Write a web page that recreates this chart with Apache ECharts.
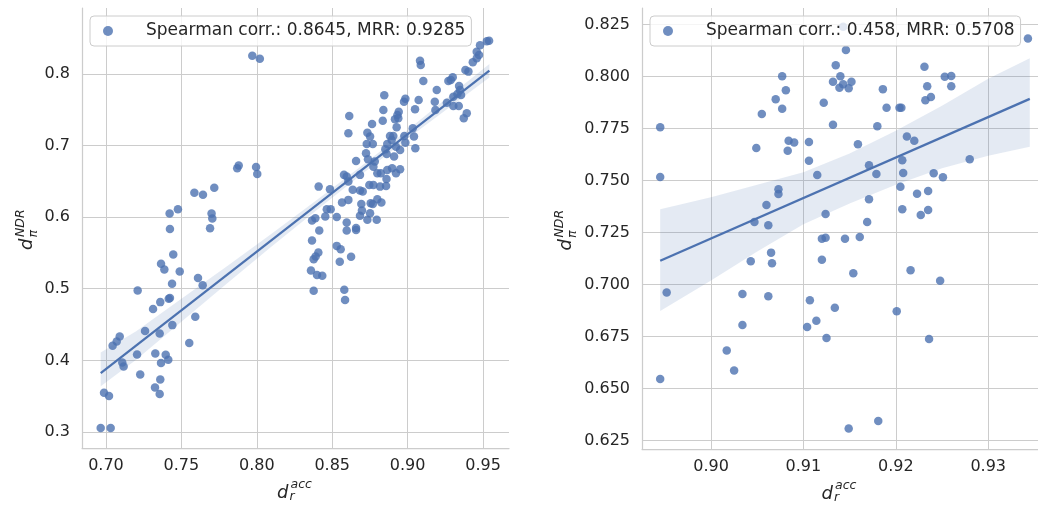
<!DOCTYPE html>
<html>
<head>
<meta charset="utf-8">
<script src="https://cdn.jsdelivr.net/npm/echarts@6/dist/echarts.min.js"></script>
<style>
  html, body { margin: 0; padding: 0; background: #ffffff; }
  #chart { width: 1038px; height: 506px; }
</style>
</head>
<body>
<div id="chart"></div>
<script>
// ---- Left panel: ranking accuracy vs. NDR distance (one point per run) ----
const leftPoints = [
  [0.797,0.825],[0.802,0.821],[0.787,0.668],[0.788,0.672],[0.7995,0.670],[0.8003,0.660],
  [0.7718,0.641],[0.7586,0.634],[0.7643,0.631],[0.7422,0.605],[0.7477,0.611],[0.770,0.605],
  [0.7705,0.598],[0.7424,0.5835],[0.769,0.5844],[0.7446,0.5477],[0.7365,0.5347],[0.7387,0.5268],
  [0.7489,0.524],[0.7438,0.5068],[0.761,0.5148],[0.7641,0.505],[0.721,0.4975],[0.736,0.4813],
  [0.7416,0.486],[0.7424,0.4869],[0.7312,0.4716],[0.7592,0.4608],[0.7259,0.4409],[0.7356,0.4375],
  [0.744,0.4492],[0.7091,0.4333],[0.7071,0.4264],[0.7044,0.4204],[0.7552,0.4241],[0.7206,0.4082],
  [0.7327,0.4096],[0.7396,0.4078],[0.7413,0.4008],[0.7365,0.3962],[0.7108,0.3971],[0.7117,0.3915],
  [0.7227,0.3803],[0.736,0.3734],[0.7325,0.3622],[0.7356,0.353],[0.6987,0.3548],[0.702,0.3502],
  [0.6965,0.3056],[0.7031,0.3056],
  [0.9525,0.8455],[0.954,0.8462],[0.948,0.8397],[0.9458,0.8308],[0.9473,0.8262],[0.9458,0.8216],
  [0.9432,0.816],[0.9383,0.8053],[0.9403,0.803],[0.927,0.79],[0.9299,0.795],[0.9286,0.7914],
  [0.9341,0.783],[0.9347,0.7774],[0.933,0.7718],[0.9354,0.7704],[0.9303,0.768],[0.9372,0.738],
  [0.9392,0.745],[0.9339,0.755],[0.9303,0.755],[0.926,0.7597],[0.918,0.761],[0.9184,0.7495],
  [0.9193,0.7774],[0.9104,0.79],[0.9082,0.8183],[0.9087,0.8123],[0.9073,0.7635],[0.9049,0.7505],
  [0.8985,0.7653],[0.8976,0.7611],[0.8941,0.7471],[0.8932,0.7425],[0.8938,0.738],[0.8916,0.7365],
  [0.8927,0.7254],[0.8905,0.7132],[0.8845,0.77],[0.8839,0.7495],[0.8835,0.7346],[0.8764,0.73],
  [0.8613,0.7411],[0.8607,0.717],[0.8733,0.7178],[0.8751,0.7123],[0.8769,0.702],[0.8729,0.702],
  [0.8883,0.7132],[0.8894,0.7077],[0.8865,0.702],[0.8923,0.6983],[0.891,0.6844],[0.895,0.6937],
  [0.8978,0.7132],[0.8985,0.7039],[0.9042,0.7123],[0.9051,0.6961],[0.9034,0.724],[0.8852,0.6947],
  [0.8861,0.6881],[0.8724,0.6891],[0.8737,0.6808],[0.8658,0.6784],[0.8782,0.6774],[0.8773,0.6704],
  [0.8799,0.6612],[0.8822,0.6612],[0.8578,0.6589],[0.8596,0.6565],[0.8607,0.6495],[0.8684,0.6589],
  [0.8865,0.6658],[0.8897,0.6682],[0.895,0.6668],[0.8923,0.6612],[0.841,0.6425],[0.8485,0.6389],
  [0.8636,0.638],[0.8684,0.637],[0.8702,0.6356],[0.8746,0.6449],[0.8773,0.6449],[0.8817,0.6425],
  [0.8857,0.6435],[0.8565,0.6202],[0.8607,0.624],[0.8693,0.6184],[0.8755,0.6194],[0.8769,0.6184],
  [0.8799,0.625],[0.8826,0.6202],[0.8464,0.611],[0.849,0.611],[0.8454,0.6007],[0.8388,0.5985],
  [0.8366,0.5951],[0.853,0.6],[0.8684,0.6017],[0.8733,0.5961],[0.8751,0.6054],[0.8795,0.5961],
  [0.8596,0.5923],[0.8658,0.5849],[0.8658,0.5821],[0.8414,0.5812],[0.8366,0.5672],[0.853,0.5598],
  [0.8556,0.5552],[0.8408,0.5505],[0.839,0.5449],[0.8377,0.5413],[0.8625,0.5445],[0.855,0.5375],
  [0.8359,0.5254],[0.8399,0.519],[0.8434,0.518],[0.8377,0.4971],[0.858,0.4985],[0.8585,0.4841],
  [0.8596,0.5812],[0.8697,0.609],[0.886,0.653]
];
// fitted regression line and its confidence band
const leftFitX = [0.6965, 0.9542];
const leftFitY = [0.3823, 0.8043];
const leftBandX = [0.6965, 0.72, 0.75, 0.78, 0.81, 0.84, 0.87, 0.90, 0.93, 0.9542];
const leftBandHigh = [0.4110, 0.4408, 0.4859, 0.5310, 0.5772, 0.6243, 0.6724, 0.7215, 0.7727, 0.8138];
const leftBandLow  = [0.3640, 0.4008, 0.4539, 0.5070, 0.5592, 0.6103, 0.6604, 0.7095, 0.7567, 0.7948];
const leftLegend = 'Spearman corr.: 0.8645, MRR: 0.9285';
const leftXTicks = [0.70, 0.75, 0.80, 0.85, 0.90, 0.95];
const leftYTicks = [0.3, 0.4, 0.5, 0.6, 0.7, 0.8];

// ---- Right panel ----
const rightPoints = [
  [0.8945,0.7757],[0.8945,0.7518],[0.8952,0.6962],[0.9049,0.7657],[0.9055,0.782],[0.907,0.7891],
  [0.9077,0.8002],[0.9081,0.7935],[0.9077,0.7846],[0.9084,0.7692],[0.909,0.7683],[0.9083,0.7644],
  [0.9106,0.7686],[0.9106,0.7596],[0.9115,0.7527],[0.9122,0.7874],[0.9132,0.7769],[0.9135,0.8055],
  [0.9132,0.7975],[0.914,0.8002],[0.9143,0.7963],[0.9139,0.7947],[0.9149,0.7944],[0.9152,0.7976],
  [0.9146,0.8128],[0.9159,0.7675],[0.918,0.7762],[0.9186,0.794],[0.919,0.7851],[0.9204,0.785],
  [0.9206,0.785],[0.9231,0.8047],[0.9234,0.7954],[0.9238,0.7902],[0.9232,0.7887],[0.9253,0.7999],
  [0.926,0.8003],[0.926,0.7954],[0.9343,0.8183],[0.9212,0.7712],[0.922,0.7692],[0.9207,0.7598],
  [0.928,0.7603],[0.9171,0.7574],[0.9179,0.7532],[0.9208,0.7537],[0.9241,0.7536],[0.9251,0.7516],
  [0.9205,0.7471],[0.9235,0.745],[0.9223,0.7437],[0.9171,0.7411],[0.9207,0.7363],[0.9235,0.7359],
  [0.9227,0.7335],[0.9124,0.734],[0.9169,0.7301],[0.9073,0.7459],[0.9073,0.7436],[0.906,0.7383],
  [0.9047,0.7301],[0.9062,0.7286],[0.912,0.7221],[0.9124,0.7225],[0.9145,0.7221],[0.9161,0.7229],
  [0.9065,0.7154],[0.9066,0.7103],[0.9043,0.7112],[0.912,0.712],[0.9154,0.7055],[0.9216,0.7069],
  [0.9248,0.7019],[0.9034,0.6955],[0.9062,0.6944],[0.9107,0.6925],[0.9034,0.6806],[0.9104,0.6797],
  [0.9114,0.6827],[0.9125,0.6744],[0.9017,0.6683],[0.9025,0.6587],[0.8945,0.6547],[0.9134,0.6889],
  [0.9201,0.6872],[0.9236,0.6739],[0.9181,0.6345],[0.9149,0.6308],[0.9143,0.824]
];
const rightFitX = [0.8945, 0.9345];
const rightFitY = [0.7115, 0.7893];
const rightBandX = [0.8945, 0.90, 0.905, 0.91, 0.915, 0.92, 0.925, 0.93, 0.9345];
const rightBandHigh = [0.7363, 0.742, 0.748, 0.754, 0.763, 0.774, 0.786, 0.799, 0.8088];
const rightBandLow  = [0.6874, 0.702, 0.716, 0.729, 0.739, 0.748, 0.756, 0.762, 0.7663];
const rightLegend = 'Spearman corr.: 0.458, MRR: 0.5708';
const rightXTicks = [0.90, 0.91, 0.92, 0.93];
const rightYTicks = [0.625, 0.650, 0.675, 0.700, 0.725, 0.750, 0.775, 0.800, 0.825];

// ---- styling ----
const FONT = 'DejaVu Sans';
const INK = '#262626';
const BLUE = '#4c72b0';
const EDGE = '#cccccc';

const panels = [
  { grid: { left: 82, top: 8, width: 427, height: 440 }, xRange: [0.6841, 0.9672], yRange: [0.2777, 0.8918],
    xTicks: leftXTicks, yTicks: leftYTicks, xDec: 2, yDec: 1,
    points: leftPoints, fitX: leftFitX, fitY: leftFitY,
    bandX: leftBandX, bandHigh: leftBandHigh, bandLow: leftBandLow, legend: leftLegend, yTitleGap: 45 },
  { grid: { left: 642, top: 8, width: 396, height: 441 }, xRange: [0.89253, 0.93539], yRange: [0.621, 0.833],
    xTicks: rightXTicks, yTicks: rightYTicks, xDec: 2, yDec: 3,
    points: rightPoints, fitX: rightFitX, fitY: rightFitY,
    bandX: rightBandX, bandHigh: rightBandHigh, bandLow: rightBandLow, legend: rightLegend, yTitleGap: 66 }
];

const grids = [], xAxes = [], yAxes = [], series = [], legends = [], graphics = [];

panels.forEach((p, i) => {
  grids.push(Object.assign({ containLabel: false }, p.grid));

  const axisCommon = {
    gridIndex: i,
    type: 'value',
    axisLine: { show: true, lineStyle: { color: EDGE, width: 1.25 } },
    axisTick: { show: false },
    splitLine: { show: true, lineStyle: { color: EDGE, width: 1 } }
  };
  xAxes.push(Object.assign({}, axisCommon, {
    min: p.xRange[0], max: p.xRange[1],
    axisTick: { show: false, customValues: p.xTicks },
    axisLabel: { customValues: p.xTicks, formatter: v => v.toFixed(p.xDec), color: INK,
                 fontFamily: FONT, fontSize: 16, margin: 10 }
  }));
  yAxes.push(Object.assign({}, axisCommon, {
    min: p.yRange[0], max: p.yRange[1],
    axisTick: { show: false, customValues: p.yTicks },
    axisLabel: { customValues: p.yTicks, formatter: v => v.toFixed(p.yDec), color: INK,
                 fontFamily: FONT, fontSize: 16, margin: 12 }
  }));

  series.push({
    name: p.legend, type: 'scatter', xAxisIndex: i, yAxisIndex: i, z: 2,
    symbol: 'circle', symbolSize: 8.5,
    itemStyle: { color: BLUE, opacity: 0.8 },
    data: p.points
  });
  series.push({
    type: 'custom', xAxisIndex: i, yAxisIndex: i, z: 3, silent: true,
    data: p.bandX.map((x, k) => [x, p.bandHigh[k], p.bandLow[k]]),
    encode: { x: 0, y: [1, 2] },
    renderItem: (params, api) => {
      if (params.dataIndex !== 0) return;
      const pts = [];
      p.bandX.forEach((x, k) => pts.push(api.coord([x, p.bandHigh[k]])));
      for (let k = p.bandX.length - 1; k >= 0; k--) pts.push(api.coord([p.bandX[k], p.bandLow[k]]));
      return { type: 'polygon', shape: { points: pts }, style: { fill: 'rgba(76,114,176,0.15)' } };
    }
  });
  series.push({
    type: 'line', xAxisIndex: i, yAxisIndex: i, z: 4, silent: true,
    symbol: 'none', lineStyle: { color: BLUE, width: 2.3 },
    data: p.fitX.map((x, k) => [x, p.fitY[k]])
  });

  legends.push({
    data: [p.legend],
    left: p.grid.left + 8, top: 16,
    orient: 'vertical',
    icon: 'circle', itemWidth: 20, itemHeight: 10,
    padding: [5, 6, 5, 13],
    backgroundColor: 'rgba(255,255,255,0.8)',
    borderColor: EDGE, borderWidth: 1, borderRadius: 4,
    textStyle: { color: INK, fontFamily: FONT, fontSize: 17, padding: [0, 0, 0, 23], lineHeight: 20 }
  });

  // x-axis title: d_r^{acc}
  const cx = p.grid.left + p.grid.width / 2;
  const bottom = p.grid.top + p.grid.height;
  graphics.push({
    type: 'group', left: cx - 18.5, top: bottom + 30,
    children: [
      { type: 'text', x: 0, y: 6, style: { text: 'd', font: 'italic 18px "DejaVu Sans"', fill: INK } },
      { type: 'text', x: 13.5, y: 0, style: { text: 'acc', font: 'italic 12.5px "DejaVu Sans"', fill: INK } },
      { type: 'text', x: 12.5, y: 12.5, style: { text: 'r', font: 'italic 12.5px "DejaVu Sans"', fill: INK } }
    ]
  });
  // y-axis title: d_π^{NDR}, rotated
  const cy = p.grid.top + p.grid.height / 2;
  graphics.push({
    type: 'group', x: p.grid.left - p.yTitleGap - 10, y: cy + 22, rotation: Math.PI / 2,
    children: [
      { type: 'text', x: 0, y: 0, style: { text: 'd', font: 'italic 18px "DejaVu Sans"', fill: INK, verticalAlign: 'middle' } },
      { type: 'text', x: 13, y: -6, style: { text: 'NDR', font: 'italic 12.5px "DejaVu Sans"', fill: INK, verticalAlign: 'middle' } },
      { type: 'text', x: 12.5, y: 6.5, style: { text: 'π', font: 'italic 12.5px "DejaVu Sans"', fill: INK, verticalAlign: 'middle' } }
    ]
  });
});

const chart = echarts.init(document.getElementById('chart'), null, { renderer: 'canvas' });
chart.setOption({
  backgroundColor: '#ffffff',
  animation: false,
  textStyle: { fontFamily: FONT },
  grid: grids,
  xAxis: xAxes,
  yAxis: yAxes,
  legend: legends,
  series: series,
  graphic: graphics
});
</script>
</body>
</html>
